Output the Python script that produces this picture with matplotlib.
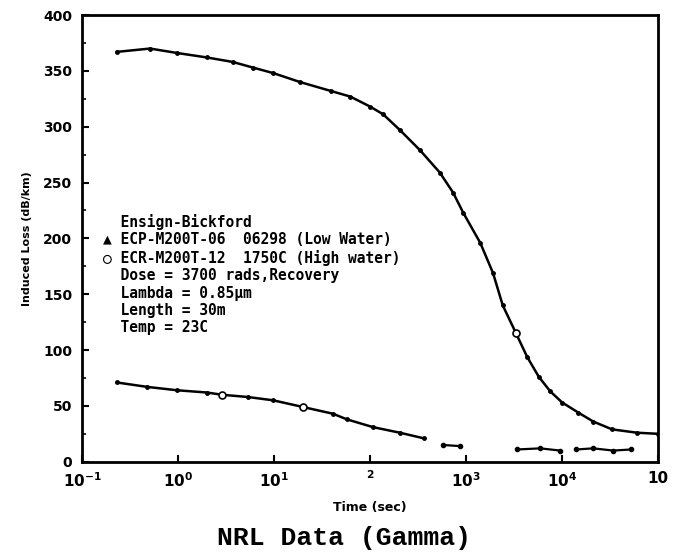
import numpy as np
import matplotlib
matplotlib.use("Agg")
from matplotlib import pyplot as plt
from matplotlib.ticker import FixedLocator, MultipleLocator

# upper curve (ECP-M200T-06, low water)
t_low = [0.23, 0.51, 0.98, 2.0, 3.7, 6.0, 9.8, 18.6, 39, 62, 100, 137, 204, 330,
         530, 730, 930, 1400, 1900, 2400, 3300, 4300, 5700, 7500, 1.0e4,
         1.47e4, 2.1e4, 3.3e4, 6.0e4, 1.0e5]
v_low = [367, 370, 366, 362, 358, 353, 348, 340, 332, 327, 318, 311, 297, 279,
         259, 241, 223, 196, 169, 140, 115, 94, 76, 63, 53,
         44, 36, 29, 26, 25]
t_low_open = [3300]
v_low_open = [115]

# lower curve (ECR-M200T-12, high water)
t_high = [0.23, 0.48, 0.98, 2.0, 2.86, 5.3, 9.8, 20, 41, 57, 107, 204, 360]
v_high = [71, 67, 64, 62, 60, 58, 55, 49, 43, 38, 31, 26, 21]
t_high_open = [2.86, 20]
v_high_open = [60, 49]

# broken tail near the baseline
t_tail = [575, 870, np.nan, 3400, 5900, 9500, np.nan, 14000, 21000, 34000, 52000]
v_tail = [15, 14, np.nan, 11, 12, 10, np.nan, 11, 12, 10, 11]

x_ticks = [1e-1, 1e0, 1e1, 1e2, 1e3, 1e4, 1e5]
x_labels = [r"$\mathbf{10^{-1}}$", r"$\mathbf{10^{0}}$", r"$\mathbf{10^{1}}$",
            r"$\mathbf{^{2}}$", r"$\mathbf{10^{3}}$", r"$\mathbf{10^{4}}$", "10"]
y_ticks = [0, 50, 100, 150, 200, 250, 300, 350, 400]

info_lines = [
    "  Ensign-Bickford",
    "\u25b2 ECP-M200T-06  06298 (Low Water)",
    "\u25cb ECR-M200T-12  1750C (High water)",
    "  Dose = 3700 rads,Recovery",
    "  Lambda = 0.85\u00b5m",
    "  Length = 30m",
    "  Temp = 23C",
]

fig = plt.figure(figsize=(6.78, 5.57), dpi=100)
ax = fig.add_axes([0.121, 0.171, 0.850, 0.802])

ax.plot(t_low, v_low, color="black", lw=1.8, marker="o", ms=2.5)
ax.plot(t_low_open, v_low_open, ls="none", marker="o", ms=5,
        mfc="white", mec="black", mew=1.2)
ax.plot(t_high, v_high, color="black", lw=1.8, marker="o", ms=2.5)
ax.plot(t_high_open, v_high_open, ls="none", marker="o", ms=5,
        mfc="white", mec="black", mew=1.2)
ax.plot(t_tail, v_tail, color="black", lw=1.6, marker="o", ms=3)

ax.set_xscale("log")
ax.set_xlim(1e-1, 1e5)
ax.set_ylim(0, 400)
ax.xaxis.set_major_locator(FixedLocator(x_ticks))
ax.xaxis.set_minor_locator(FixedLocator([]))
ax.set_xticklabels(x_labels, fontsize=11, fontweight="bold")
ax.set_yticks(y_ticks)
ax.yaxis.set_minor_locator(MultipleLocator(25))
for lab in ax.get_yticklabels():
    lab.set_fontweight("bold")
    lab.set_fontsize(10)
ax.tick_params(axis="both", direction="in", length=5, width=1.5, pad=7)
ax.tick_params(axis="y", which="minor", direction="in", length=3, width=1.2)
for s in ax.spines.values():
    s.set_linewidth(2)

ax.set_xlabel("Time (sec)", fontsize=9, fontweight="bold", labelpad=8)
ax.set_ylabel("Induced Loss (dB/km)", fontsize=8, fontweight="bold", labelpad=8)

ax.text(0.036, 0.555, "\n".join(info_lines), transform=ax.transAxes,
        family="DejaVu Sans Mono", fontsize=10.5, fontweight="bold",
        va="top", ha="left", linespacing=1.2)

fig.text(0.507, 0.012, "NRL Data (Gamma)", family="Liberation Mono",
         fontsize=19, fontweight="bold", ha="center", va="bottom")

fig.savefig("out.png", dpi=100)
